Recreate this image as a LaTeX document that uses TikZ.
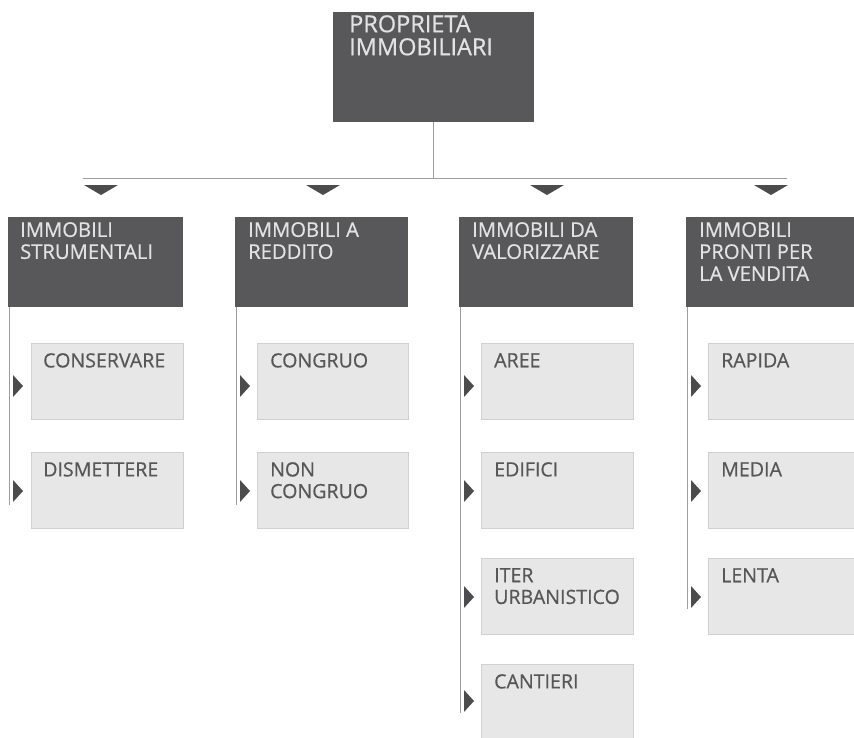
\documentclass[tikz,border=0pt]{standalone}
\usepackage{fontspec}
\setmainfont{Open Sans}[FakeBold=0.6]
\definecolor{darkfill}{HTML}{58585A}
\definecolor{lighttext}{HTML}{E2E2E2}
\definecolor{lightfill}{HTML}{E7E7E7}
\definecolor{lightborder}{HTML}{D0D0D0}
\definecolor{subtext}{HTML}{575757}
\definecolor{linegray}{HTML}{9C9C9C}
\definecolor{trigray}{HTML}{4C4C4E}
\tikzset{
  darkbox/.style={rectangle, fill=darkfill, draw=none, inner sep=0pt, anchor=north west},
  subbox/.style={rectangle, fill=lightfill, draw=lightborder, line width=0.6pt, inner sep=0pt, anchor=north west, minimum width=152pt, minimum height=76pt},
  toptext/.style={anchor=north west, inner sep=0pt, align=left, text=lighttext, font=\fontsize{23.5}{23}\selectfont},
  cattext/.style={anchor=north west, inner sep=0pt, align=left, text=lighttext, font=\fontsize{20.2}{22}\selectfont},
  subtextstyle/.style={anchor=north west, inner sep=0pt, align=left, text=subtext, font=\fontsize{19.6}{21.7}\selectfont},
  conn/.style={draw=linegray, line width=0.8pt},
  downtri/.style={fill=trigray},
  righttri/.style={fill=trigray}
}
\begin{document}
\begin{tikzpicture}[x=1pt,y=-1pt]
\useasboundingbox (0,0) rectangle (854,737);
% top box
\node[darkbox, minimum width=201pt, minimum height=110pt] (top) at (333,12) {};
\node[toptext] (toptxt) at (349,15) {PROPRIETA\\IMMOBILIARI};
% bus
\coordinate (busc) at (top.south |- 0,178);
\coordinate (busl) at (83,178);
\coordinate (busr) at (787,178);
\draw[conn] (top.south) -- (busc);
\draw[conn] (busl) -- (busr);
% down triangles
\foreach \cx/\nm in {101/t1,323/t2,547/t3,771/t4}{
  \coordinate (\nm) at (\cx,185);
  \fill[downtri] (\nm) ++(-17,0) -- ++(34,0) -- ++(-17,10) -- cycle;
}
% category boxes
\node[darkbox, minimum width=175pt, minimum height=90pt] (c1) at (8,217) {};
\node[darkbox, minimum width=173pt, minimum height=90pt] (c2) at (235,217) {};
\node[darkbox, minimum width=174pt, minimum height=90pt] (c3) at (459,217) {};
\node[darkbox, minimum width=170pt, minimum height=90pt] (c4) at (686,217) {};
\node[cattext] (c1t) at (20,222) {IMMOBILI\\STRUMENTALI};
\node[cattext] (c2t) at (248,222) {IMMOBILI A\\REDDITO};
\node[cattext] (c3t) at (472,222) {IMMOBILI DA\\VALORIZZARE};
\node[cattext] (c4t) at (699,222) {IMMOBILI\\PRONTI PER\\LA VENDITA};
% vertical lines
\coordinate (v1a) at (9,307);   \coordinate (v1b) at (9,505);
\coordinate (v2a) at (236,307); \coordinate (v2b) at (236,505);
\coordinate (v3a) at (460,307); \coordinate (v3b) at (460,713);
\coordinate (v4a) at (687,307); \coordinate (v4b) at (687,609);
\draw[conn] (v1a) -- (v1b);
\draw[conn] (v2a) -- (v2b);
\draw[conn] (v3a) -- (v3b);
\draw[conn] (v4a) -- (v4b);
% sub boxes
\node[subbox] (s11) at (31,343) {};
\node[subbox] (s12) at (31,452) {};
\node[subbox, minimum width=151pt] (s21) at (257,343) {};
\node[subbox, minimum width=151pt] (s22) at (257,452) {};
\node[subbox] (s31) at (481,343) {};
\node[subbox] (s32) at (481,452) {};
\node[subbox] (s33) at (481,558) {};
\node[subbox, minimum height=90pt] (s34) at (481,664) {};
\node[subbox, minimum width=150pt] (s41) at (708,343) {};
\node[subbox, minimum width=150pt] (s42) at (708,452) {};
\node[subbox, minimum width=150pt] (s43) at (708,558) {};
% sub texts
\node[subtextstyle] at (43,353) {CONSERVARE};
\node[subtextstyle] at (43,462) {DISMETTERE};
\node[subtextstyle] at (270,353) {CONGRUO};
\node[subtextstyle] at (270,462) {NON\\CONGRUO};
\node[subtextstyle] at (494,353) {AREE};
\node[subtextstyle] at (494,462) {EDIFICI};
\node[subtextstyle] at (494,568) {ITER\\URBANISTICO};
\node[subtextstyle] at (494,674) {CANTIERI};
\node[subtextstyle] at (721,353) {RAPIDA};
\node[subtextstyle] at (721,462) {MEDIA};
\node[subtextstyle] at (721,568) {LENTA};
% right triangles
\foreach \lx/\ly in {13/386,13/491,240/386,240/491,464/386,464/491,464/597,464/701,691/386,691/491,691/597}{
  \fill[righttri] (\lx,\ly) ++(0,-11) -- ++(10,11) -- ++(-10,11) -- cycle;
}
\end{tikzpicture}
\end{document}
